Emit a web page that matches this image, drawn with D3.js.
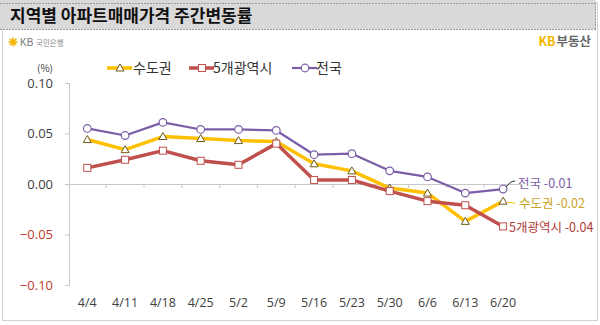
<!DOCTYPE html>
<html><head><meta charset="utf-8">
<script src="https://cdn.jsdelivr.net/npm/d3@7"></script>
<style>
html,body{margin:0;padding:0;background:#fff;}
svg{display:block;font-family:"Noto Sans CJK KR","Noto Sans",sans-serif;}
</style></head>
<body><svg id="c" width="600" height="325"></svg>
<script>
const categories = ["4/4","4/11","4/18","4/25","5/2","5/9","5/16","5/23","5/30","6/6","6/13","6/20"];
const seriesNames = ["수도권","5개광역시","전국"];
const sudogwon = [0.044,0.034,0.047,0.045,0.043,0.042,0.020,0.013,-0.004,-0.009,-0.037,-0.017];
const gwangyeok = [0.016,0.024,0.033,0.023,0.019,0.040,0.004,0.004,-0.007,-0.017,-0.021,-0.042];
const jeonguk = [0.055,0.048,0.061,0.054,0.054,0.053,0.029,0.030,0.013,0.007,-0.009,-0.005];
const yTicks = [0.10,0.05,0.00,-0.05,-0.10];
const endLabels = ["전국 -0.01","수도권 -0.02","5개광역시 -0.04"];

const svg = d3.select("#c");
// frame
svg.append("rect").attr("x",2.5).attr("y",2.5).attr("width",595).attr("height",318)
  .attr("fill","#fff").attr("stroke","#d0d0d0");
svg.append("rect").attr("x",0).attr("y",0).attr("width",596).attr("height",29).attr("fill","#d9d9d9");
svg.append("line").attr("x1",0).attr("x2",596).attr("y1",3.5).attr("y2",3.5).attr("stroke","#9a9a9a").attr("stroke-dasharray","2,1");
svg.append("line").attr("x1",0).attr("x2",596).attr("y1",29.5).attr("y2",29.5).attr("stroke","#9a9a9a").attr("stroke-dasharray","2,1");
svg.append("line").attr("x1",595.5).attr("x2",595.5).attr("y1",3).attr("y2",30).attr("stroke","#9a9a9a").attr("stroke-dasharray","2,1");
svg.append("text").attr("x",10).attr("y",22).attr("font-size",17).attr("font-weight","bold").attr("fill","#111")
  .text("지역별 아파트매매가격 주간변동률");
// KB logo left
const lg = svg.append("g").attr("transform","translate(9,42)");
[0,45,90,135].forEach(a=>{
  lg.append("line").attr("x1",-4.5).attr("x2",4.5).attr("y1",0).attr("y2",0)
    .attr("transform",`translate(4,0) rotate(${a})`).attr("stroke","#f4b400").attr("stroke-width",1.6);
});
lg.append("text").attr("x",11).attr("y",4).attr("font-size",10).attr("fill","#777").attr("font-family","Arial,Liberation Sans,sans-serif").text("KB");
lg.append("text").attr("x",27).attr("y",4).attr("font-size",7.5).attr("fill","#888").text("국민은행");
// KB 부동산 right
const rt = svg.append("text").attr("x",591).attr("y",46).attr("text-anchor","end").attr("font-size",12.5).attr("font-weight","bold");
rt.append("tspan").attr("fill","#f5b800").text("KB");
rt.append("tspan").attr("fill","#666").attr("dx",1).text("부동산");

const x = d3.scaleBand().domain(categories).range([68.4,522]).padding(0);
const y = d3.scaleLinear().domain([-0.1,0.1]).range([285,83]);
const cx = d => x(d)+x.bandwidth()/2;

// y axis
const ya = svg.append("g").attr("transform","translate(69,0)")
  .call(d3.axisLeft(y).tickValues(yTicks).tickSize(4).tickFormat(d3.format(".2f")));
ya.select(".domain").attr("stroke","#c8c8c8");
ya.selectAll(".tick line").attr("stroke","#c8c8c8");
ya.selectAll(".tick text").attr("x",-16).attr("font-size",13)
  .attr("font-family","'Open Sans','Noto Sans',sans-serif")
  .attr("fill",d=>d<0?"#c0392b":"#404040");
svg.append("text").attr("x",53).attr("y",72).attr("text-anchor","end").attr("font-size",10).attr("fill","#404040").text("(%)");

// x axis at zero
const xa = svg.append("g").attr("transform",`translate(0,${y(0)})`)
  .call(d3.axisBottom(x).tickSize(0).tickFormat(""));
xa.select(".domain").attr("stroke","#c8c8c8");
xa.selectAll(".tick").remove();
const edges = categories.map(c=>x(c)).concat([x(categories[categories.length-1])+x.bandwidth()]).slice(1);
svg.append("g").selectAll("line").data(edges).join("line")
  .attr("x1",d=>d).attr("x2",d=>d).attr("y1",y(0)).attr("y2",y(0)+4).attr("stroke","#c8c8c8");
svg.append("g").selectAll("text").data(categories).join("text")
  .attr("x",d=>cx(d)).attr("y",307).attr("text-anchor","middle").attr("font-size",12.5)
  .attr("font-family","'Open Sans','Noto Sans',sans-serif").attr("fill","#404040").text(d=>d);

const series = [
  {name:seriesNames[0], vals:sudogwon, color:"#ffc000", w:3.5, mk:"tri", ms:"#6b5a1a"},
  {name:seriesNames[1], vals:gwangyeok, color:"#c0504d", w:3.5, mk:"sq", ms:"#c0504d"},
  {name:seriesNames[2], vals:jeonguk, color:"#7b5ea7", w:2.2, mk:"circ", ms:"#7b5ea7"}
];
function marker(g, mk, px, py, st){
  if(mk==="tri") g.append("path").attr("d",`M${px},${py-4}L${px+4},${py+3}L${px-4},${py+3}Z`).attr("fill","#fff").attr("stroke",st).attr("stroke-width",1);
  else if(mk==="sq") g.append("rect").attr("x",px-3.5).attr("y",py-3.5).attr("width",7).attr("height",7).attr("fill","#fff").attr("stroke",st).attr("stroke-width",1);
  else g.append("circle").attr("cx",px).attr("cy",py).attr("r",3.8).attr("fill","#fff").attr("stroke",st).attr("stroke-width",1.2);
}
const line = d3.line().x((d,i)=>cx(categories[i])).y(d=>y(d));
series.forEach(s=>{
  svg.append("path").datum(s.vals).attr("d",line).attr("fill","none").attr("stroke",s.color)
    .attr("stroke-width",s.w).attr("stroke-linejoin","round");
});
series.forEach(s=>{
  const g = svg.append("g");
  s.vals.forEach((v,i)=>marker(g,s.mk,cx(categories[i]),y(v),s.ms));
});

// legend
const legX = [107,189,292];
const legTextX = [133,213,316];
series.forEach((s,i)=>{
  const g = svg.append("g");
  g.append("line").attr("x1",legX[i]).attr("x2",legX[i]+25).attr("y1",68).attr("y2",68).attr("stroke",s.color).attr("stroke-width",s.w);
  marker(g,s.mk,legX[i]+13,68,s.ms);
  g.append("text").attr("x",legTextX[i]).attr("y",73).attr("font-size",14).attr("fill","#333").text(s.name);
});

// end labels
const lastX = cx(categories[categories.length-1]);
svg.append("path").attr("d",`M${lastX+3},${y(jeonguk[11])-2} Q${lastX+7},${y(0)-3} ${lastX+12},${y(0)-3}`)
  .attr("fill","none").attr("stroke","#222").attr("stroke-width",1);
svg.append("text").attr("x",518).attr("y",188).attr("font-size",12.5).attr("fill","#7b5ea7").text(endLabels[0]);
svg.append("line").attr("x1",lastX+4).attr("x2",lastX+12).attr("y1",y(sudogwon[11])+1).attr("y2",y(sudogwon[11])+2)
  .attr("stroke","#ffc000").attr("stroke-width",1);
svg.append("text").attr("x",519).attr("y",208).attr("font-size",12.5).attr("fill","#c9a227").text(endLabels[1]);
svg.append("text").attr("x",509).attr("y",232).attr("font-size",12.5).attr("fill","#b03a3a").text(endLabels[2]);
</script></body></html>
